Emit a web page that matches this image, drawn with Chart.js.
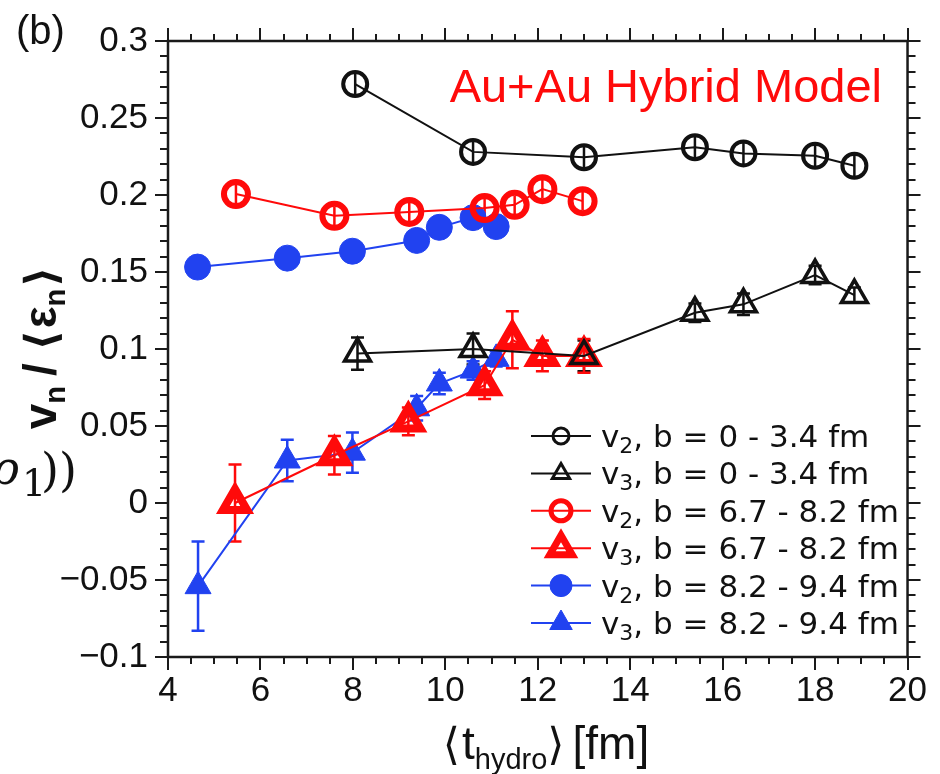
<!DOCTYPE html>
<html lang="en">
<head>
<meta charset="UTF-8">
<title>Au+Au Hybrid Model</title>
<script src="https://cdn.jsdelivr.net/npm/chart.js@4.4.1/dist/chart.umd.min.js"></script>
<style>
  html, body { margin: 0; padding: 0; background: #fff; }
  #wrap { width: 940px; height: 774px; }
</style>
</head>
<body>
<div id="wrap"><canvas id="flowChart" width="940" height="774"></canvas></div>
<script>
// <t_hydro> [fm], v_n/<eps_n> and errors per centrality class
const tV2Central = [8.05, 10.6, 13.0, 15.4, 16.45, 18.0, 18.85];
const vV2Central = [0.272, 0.228, 0.2245, 0.231, 0.227, 0.2255, 0.219];
const eV2Central = [0.007, 0.007, 0.007, 0.007, 0.007, 0.007, 0.007];

const tV3Central = [8.1, 10.6, 13.0, 15.4, 16.45, 18.0, 18.85];
const vV3Central = [0.097, 0.1, 0.0955, 0.1235, 0.129, 0.148, 0.135];
const eV3Central = [0.0105, 0.01, 0.01, 0.006, 0.007, 0.006, 0.005];

const tV2Mid = [5.47, 7.6, 9.22, 10.85, 11.5, 12.1, 12.97];
const vV2Mid = [0.2006, 0.1865, 0.189, 0.1915, 0.1936, 0.2038, 0.196];
const eV2Mid = [0.006, 0.006, 0.006, 0.006, 0.006, 0.006, 0.006];

const tV3Mid = [5.45, 7.6, 9.2, 10.85, 11.45, 12.1, 13.0];
const vV3Mid = [0.0, 0.031, 0.053, 0.0765, 0.106, 0.0955, 0.0955];
const eV3Mid = [0.025, 0.0125, 0.009, 0.009, 0.0185, 0.01, 0.011];

const tV2Peri = [4.64, 6.58, 7.99, 9.38, 9.87, 10.6, 11.1];
const vV2Peri = [0.1532, 0.159, 0.1635, 0.1705, 0.179, 0.1853, 0.1795];

const tV3Peri = [4.65, 6.58, 7.99, 9.38, 9.87, 10.6, 11.1];
const vV3Peri = [-0.054, 0.0276, 0.0327, 0.0615, 0.0776, 0.086, 0.0936];
const eV3Peri = [0.029, 0.0135, 0.013, 0.008, 0.007, 0.006, 0.005];

const xTicks = [4, 6, 8, 10, 12, 14, 16, 18, 20];
const xTickLabels = ['4', '6', '8', '10', '12', '14', '16', '18', '20'];
const yTicks = [-0.1, -0.05, 0, 0.05, 0.1, 0.15, 0.2, 0.25, 0.3];
const yTickLabels = ['\u22120.1', '\u22120.05', '0', '0.05', '0.1', '0.15', '0.2', '0.25', '0.3'];

const RED = '#ff0a0a';
const BLUE = '#2142f0';
const BLACK = '#111';

function pts(t, v) {
  return t.map((x, i) => ({ x: x, y: v[i] }));
}

function series(label, t, v, err, color, style, filled, r, bw, legendR, legendBw) {
  return {
    label: label,
    data: pts(t, v),
    err: err,
    borderColor: color,
    borderWidth: 2,
    pointStyle: style,
    pointRadius: r,
    pointBorderWidth: bw,
    pointBorderColor: color,
    pointBackgroundColor: filled ? color : 'rgba(255,255,255,0)',
    legendR: legendR,
    legendBw: legendBw,
    filled: filled,
    fill: false,
    tension: 0,
    clip: false
  };
}

// legend text: [index of v_n, impact parameter range]
const datasets = [
  series(['2', 'b = 0 - 3.4 fm'], tV2Central, vV2Central, eV2Central, BLACK, 'circle', false, 12, 4, 8, 3),
  series(['3', 'b = 0 - 3.4 fm'], tV3Central, vV3Central, eV3Central, BLACK, 'triangle', false, 15, 3.5, 10, 3),
  series(['2', 'b = 6.7 - 8.2 fm'], tV2Mid, vV2Mid, eV2Mid, RED, 'circle', false, 12, 6, 10, 5),
  series(['3', 'b = 6.7 - 8.2 fm'], tV3Mid, vV3Mid, eV3Mid, RED, 'triangle', false, 14, 8, 13, 7),
  series(['2', 'b = 8.2 - 9.4 fm'], tV2Peri, vV2Peri, null, BLUE, 'circle', true, 13, 1, 11, 1),
  series(['3', 'b = 8.2 - 9.4 fm'], tV3Peri, vV3Peri, eV3Peri, BLUE, 'triangle', true, 15, 1, 13, 1)
];

// vertical error bars; the small v2 bars have no caps
const errorBars = {
  id: 'errorBars',
  beforeDatasetsDraw(chart) {
    const { ctx, scales: { x, y } } = chart;
    ctx.save();
    chart.data.datasets.forEach(ds => {
      if (!ds.err) return;
      const caps = ds.pointStyle !== 'circle';
      ctx.strokeStyle = ds.borderColor;
      ctx.lineWidth = 2.5;
      ds.data.forEach((p, i) => {
        const px = x.getPixelForValue(p.x);
        const top = y.getPixelForValue(p.y + ds.err[i]);
        const bot = y.getPixelForValue(p.y - ds.err[i]);
        ctx.beginPath();
        ctx.moveTo(px, top); ctx.lineTo(px, bot);
        if (caps) {
          ctx.moveTo(px - 6.5, top); ctx.lineTo(px + 6.5, top);
          ctx.moveTo(px - 6.5, bot); ctx.lineTo(px + 6.5, bot);
        }
        ctx.stroke();
      });
    });
    ctx.restore();
  }
};

// box frame with major and minor ticks pointing outward on all sides
const frame = {
  id: 'frame',
  afterDraw(chart) {
    const { ctx, chartArea: a, scales: { x, y } } = chart;
    ctx.save();
    ctx.strokeStyle = '#1a1a1a';
    ctx.lineWidth = 2.5;
    ctx.strokeRect(a.left, a.top, a.right - a.left, a.bottom - a.top);
    ctx.lineWidth = 2;
    ctx.beginPath();
    for (let i = 0; i <= 32; i++) {
      const v = 4 + i * 0.5;
      const px = Math.round(x.getPixelForValue(v));
      const len = i % 4 === 0 ? 13 : 7;
      ctx.moveTo(px, a.bottom); ctx.lineTo(px, a.bottom + len);
      ctx.moveTo(px, a.top); ctx.lineTo(px, a.top - len);
    }
    for (let i = 0; i <= 40; i++) {
      const v = -0.1 + i * 0.01;
      const py = Math.round(y.getPixelForValue(v));
      const len = i % 5 === 0 ? 13 : 8;
      ctx.moveTo(a.left, py); ctx.lineTo(a.left - len, py);
      ctx.moveTo(a.right, py); ctx.lineTo(a.right + len, py);
    }
    ctx.stroke();
    ctx.restore();
  }
};

// draw a run of text pieces, some lowered and smaller (subscripts)
function drawPieces(ctx, pieces, x, y) {
  let cx = x;
  pieces.forEach(p => {
    ctx.font = p.font;
    ctx.fillText(p.t, cx, y + (p.dy || 0));
    cx += ctx.measureText(p.t).width + (p.gap || 0);
  });
  return cx;
}
function piecesWidth(ctx, pieces) {
  let w = 0;
  pieces.forEach(p => { ctx.font = p.font; w += ctx.measureText(p.t).width + (p.gap || 0); });
  return w;
}

const annotations = {
  id: 'annotations',
  afterDraw(chart) {
    const { ctx } = chart;
    ctx.save();
    ctx.textBaseline = 'alphabetic';
    ctx.textAlign = 'left';

    // panel tag
    ctx.fillStyle = '#111';
    ctx.font = '40px "Liberation Sans"';
    ctx.fillText('(b)', 16, 44);

    // model label
    ctx.fillStyle = RED;
    ctx.font = '47px "Liberation Sans"';
    ctx.textAlign = 'right';
    ctx.fillText('Au+Au Hybrid Model', 882, 102);
    ctx.textAlign = 'left';

    // x axis title
    ctx.fillStyle = '#111';
    const xt = [
      { t: '\u27E8', font: '44px "DejaVu Sans"', gap: 2 },
      { t: 't', font: '46px "Liberation Sans"' },
      { t: 'hydro', font: '29px "Liberation Sans"', dy: 10 },
      { t: '\u27E9', font: '44px "DejaVu Sans"', gap: 8 },
      { t: '[fm]', font: '46px "Liberation Sans"' }
    ];
    drawPieces(ctx, xt, 546 - piecesWidth(ctx, xt) / 2, 759);

    // y axis title
    const yt = [
      { t: 'v', font: 'bold 46px "Liberation Sans"' },
      { t: 'n', font: 'bold 29px "Liberation Sans"', dy: 9, gap: 10 },
      { t: '/ ', font: 'bold 46px "Liberation Sans"' },
      { t: '\u27E8', font: 'bold 44px "DejaVu Sans"', gap: 2 },
      { t: '\u03B5', font: 'bold 46px "Liberation Sans"' },
      { t: 'n', font: 'bold 29px "Liberation Sans"', dy: 9, gap: 2 },
      { t: '\u27E9', font: 'bold 44px "DejaVu Sans"' }
    ];
    ctx.save();
    ctx.translate(56, 348);
    ctx.rotate(-Math.PI / 2);
    drawPieces(ctx, yt, -piecesWidth(ctx, yt) / 2, 0);
    ctx.restore();

    // fragment of a neighbouring formula at the left edge
    ctx.font = 'italic 46px "DejaVu Serif"';
    ctx.fillText('\u03C1', -8, 484);
    ctx.font = '38px "DejaVu Serif"';
    ctx.fillText('1', 22, 496);
    ctx.font = '46px "DejaVu Serif"';
    ctx.fillText('))', 41, 486);

    // legend: line segment, marker, label
    const rowY0 = 436, rowStep = 37.4;
    chart.data.datasets.forEach((ds, i) => {
      const yy = rowY0 + i * rowStep;
      ctx.strokeStyle = ds.borderColor;
      ctx.lineWidth = 2;
      ctx.beginPath();
      ctx.moveTo(531, yy); ctx.lineTo(591, yy);
      ctx.stroke();
      ctx.fillStyle = ds.filled ? ds.borderColor : 'rgba(255,255,255,0)';
      ctx.lineWidth = ds.legendBw;
      Chart.helpers.drawPoint(ctx, {
        pointStyle: ds.pointStyle, radius: ds.legendR, rotation: 0, borderWidth: ds.legendBw
      }, 561, yy);
      ctx.fillStyle = '#111';
      drawPieces(ctx, [
        { t: 'v', font: '31px "DejaVu Sans"' },
        { t: ds.label[0], font: '22px "DejaVu Sans"', dy: 6 },
        { t: ', ' + ds.label[1], font: '31px "DejaVu Sans"' }
      ], 601, yy + 11);
    });
    ctx.restore();
  }
};

const tickFont = { family: '"Liberation Sans", Arial, sans-serif', size: 35 };

new Chart(document.getElementById('flowChart').getContext('2d'), {
  type: 'line',
  data: { datasets: datasets },
  options: {
    responsive: false,
    animation: false,
    layout: { padding: { left: 0, right: 22, top: 33, bottom: 0 } },
    plugins: { legend: { display: false }, tooltip: { enabled: false } },
    scales: {
      x: {
        type: 'linear', position: 'bottom', min: 4, max: 20,
        afterBuildTicks: s => { s.ticks = xTicks.map(v => ({ value: v })); },
        afterFit: s => { s.height = 117; },
        grid: { display: false, drawTicks: false },
        border: { display: false },
        ticks: {
          padding: 13, color: '#111', font: tickFont, maxRotation: 0, autoSkip: false,
          callback: v => xTickLabels[xTicks.indexOf(v)]
        }
      },
      y: {
        type: 'linear', position: 'left', min: -0.1, max: 0.3,
        afterBuildTicks: s => { s.ticks = yTicks.map(v => ({ value: v })); },
        afterFit: s => { s.width = 168; },
        grid: { display: false, drawTicks: false },
        border: { display: false },
        ticks: {
          padding: 20, color: '#111', font: tickFont, autoSkip: false,
          callback: v => yTickLabels[yTicks.findIndex(t => Math.abs(t - v) < 1e-9)]
        }
      }
    }
  },
  plugins: [errorBars, frame, annotations]
});
</script>
</body>
</html>
